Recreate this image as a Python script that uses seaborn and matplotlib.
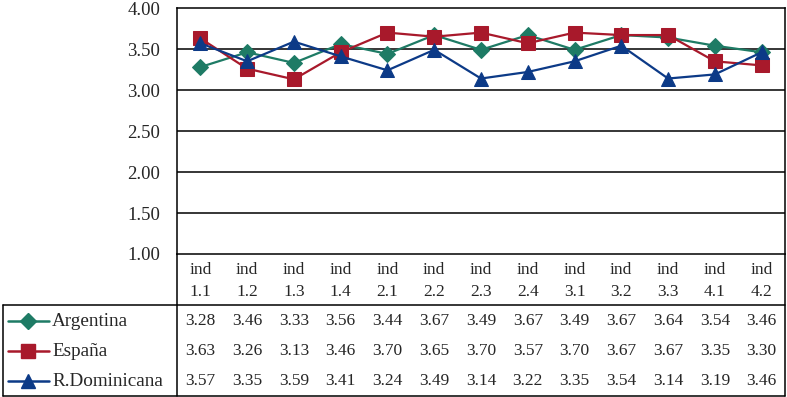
#Line chart of indicator means by country, with the data table under the plot.

#Importing libraries.
import numpy as np
import pandas as pd
import matplotlib
matplotlib.use("Agg")
import matplotlib.pyplot as plt
import matplotlib.transforms as mtransforms
from matplotlib.lines import Line2D
import seaborn as sns

#Data.
indicators = ["1.1", "1.2", "1.3", "1.4", "2.1", "2.2", "2.3", "2.4", "3.1", "3.2", "3.3", "4.1", "4.2"]
argentina = [3.28, 3.46, 3.33, 3.56, 3.44, 3.67, 3.49, 3.67, 3.49, 3.67, 3.64, 3.54, 3.46]
espana = [3.63, 3.26, 3.13, 3.46, 3.70, 3.65, 3.70, 3.57, 3.70, 3.67, 3.67, 3.35, 3.30]
rdominicana = [3.57, 3.35, 3.59, 3.41, 3.24, 3.49, 3.14, 3.22, 3.35, 3.54, 3.14, 3.19, 3.46]
countries = ["Argentina", "España", "R.Dominicana"]
y_ticks = [1.00, 1.50, 2.00, 2.50, 3.00, 3.50, 4.00]

#Styles.
colors = {"Argentina": "#1E7B65", "España": "#A8192B", "R.Dominicana": "#0C3A87"}
markers = {"Argentina": "D", "España": "s", "R.Dominicana": "^"}
msizes = {"Argentina": 8, "España": 10, "R.Dominicana": 10}

#Building a long table for seaborn.
series = {"Argentina": argentina, "España": espana, "R.Dominicana": rdominicana}
rows = []
for country in countries:
    for i, val in enumerate(series[country]):
        rows.append({"pos": i, "value": val, "country": country})
df = pd.DataFrame(rows)

sns.set_style("white")
plt.rcParams["font.family"] = ["Liberation Serif", "DejaVu Serif"]

W, H = 787, 397
fig = plt.figure(figsize=(W / 100, H / 100), dpi=100)
left, right, top, bottom = 177, 785, 8, 254
ax = fig.add_axes([left / W, 1 - bottom / H, (right - left) / W, (bottom - top) / H])

#Plotting each series with its own marker size.
for country in countries:
    sub = df[df["country"] == country]
    sns.lineplot(data=sub, x="pos", y="value", ax=ax, color=colors[country],
                 marker=markers[country], markersize=msizes[country],
                 markeredgecolor=colors[country], linewidth=1.6, legend=False)

ax.set_xlim(-0.5, len(indicators) - 0.5)
ax.set_ylim(1.0, 4.0)
ax.set_yticks(y_ticks)
ax.set_yticklabels([f"{t:.2f}" for t in y_ticks], fontsize=13.5)
ax.set_xticks([])
ax.set_xlabel("")
ax.set_ylabel("")
ax.tick_params(axis="y", length=0, pad=12)
for t in y_ticks[1:-1]:
    ax.axhline(t, color="black", linewidth=1.1, zorder=0)
for s in ax.spines.values():
    s.set_color("black")
    s.set_linewidth(1.1)

#Overlay axes in pixel coordinates for the table.
ov = fig.add_axes([0, 0, 1, 1], zorder=-1)
ov.set_xlim(0, W)
ov.set_ylim(H, 0)
ov.axis("off")
blend = mtransforms.blended_transform_factory(ax.transData, ov.transData)

lk = dict(color="black", linewidth=1.1)
ov.plot([left, left], [bottom, H - 1], **lk)
ov.plot([right, right], [bottom, H - 1], **lk)
ov.plot([3, right], [305, 305], **lk)
ov.plot([3, right], [H - 1, H - 1], **lk)
ov.plot([3, 3], [305, H - 1], **lk)

#Header row and values.
for i, ind in enumerate(indicators):
    ov.text(i, 281, f"ind\n{ind}", transform=blend, ha="center", va="center",
            fontsize=12.5, linespacing=1.45)
row_y = [321, 351, 381]
for r, country in enumerate(countries):
    for i, val in enumerate(series[country]):
        ov.text(i, row_y[r], f"{val:.2f}", transform=blend, ha="center", va="center",
                fontsize=12.5)
    ov.add_line(Line2D([8, 49], [row_y[r], row_y[r]], color=colors[country], linewidth=1.8))
    ov.plot([28], [row_y[r]], marker=markers[country], markersize=msizes[country],
            color=colors[country], markeredgecolor=colors[country])
    ov.text(52, row_y[r], country, ha="left", va="center", fontsize=13.8)

fig.savefig("out.png", dpi=100)
